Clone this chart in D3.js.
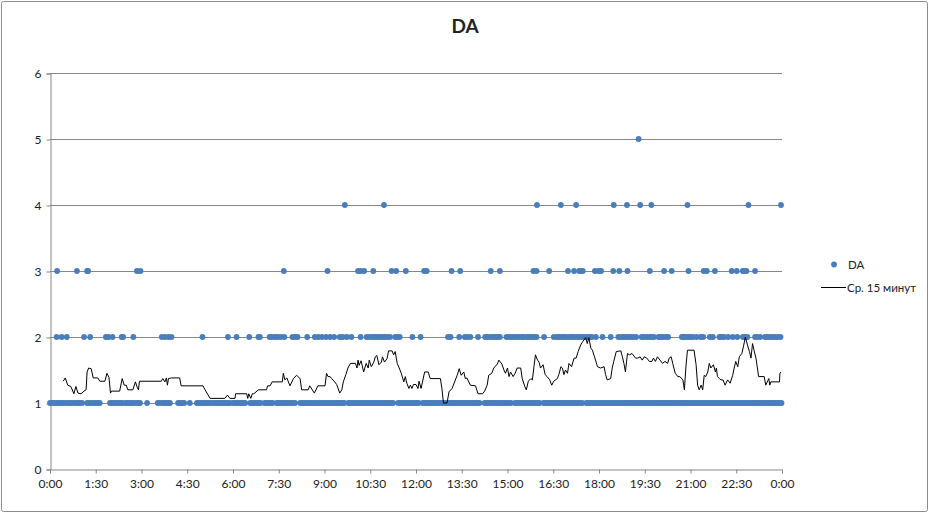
<!DOCTYPE html>
<html>
<head>
<meta charset="utf-8">
<script src="https://cdn.jsdelivr.net/npm/d3@7"></script>
<style>
  body { margin: 0; background: #fff; }
  svg text { font-family: Lato, "Open Sans", sans-serif; fill: #222; }
</style>
</head>
<body>
<svg id="chart" width="930" height="514"></svg>
<script>
// minutes since 0:00
const xTicks = [0, 90, 180, 270, 360, 450, 540, 630, 720, 810, 900, 990, 1080, 1170, 1260, 1350, 1440];
const xLabels = ['0:00', '1:30', '3:00', '4:30', '6:00', '7:30', '9:00', '10:30', '12:00',
  '13:30', '15:00', '16:30', '18:00', '19:30', '21:00', '22:30', '0:00'];
const yTicks = [0, 1, 2, 3, 4, 5, 6];

// DA readings, grouped by value (time in minutes)
const daOnes = [0, 4, 8, 12, 17, 21, 25, 29, 34, 38, 42, 47, 51, 55, 59, 63,
  73, 77, 81, 86, 90, 94, 98,
  118, 122, 126, 131, 135, 139, 143, 149, 153, 157, 161, 165, 170, 174, 177,
  191, 212, 216, 221, 225, 229, 233, 236, 252, 256, 260, 264, 275, 289, 293, 297, 301,
  305, 309, 313, 317, 322, 326, 330, 334, 338, 342, 346, 350, 354,
  360, 364, 368, 372, 376, 380, 384, 394, 398, 402, 406, 410, 414, 422, 426, 430, 434, 438,
  446, 450, 454, 458, 462, 466, 470, 474, 478, 482, 492, 496, 500, 504, 508, 512, 516, 520, 524, 528, 531,
  535, 539, 543, 547, 551, 555, 559, 563, 567, 571, 575, 579, 587, 591, 595, 599, 603, 607, 611, 615,
  619, 623, 627, 631, 635, 639, 643, 647, 651, 655, 659, 663, 667, 671, 675, 685, 689, 693, 697, 701,
  705, 709, 713, 717, 721, 725, 733, 737, 741, 745, 749, 753, 757, 761, 765, 769, 773, 777, 781, 785,
  789, 793, 797, 801, 805, 809, 813, 817, 821, 825, 829, 833, 837, 841, 845, 855, 859, 863, 867, 871,
  875, 879, 883, 887, 891, 895, 899, 903, 907, 915, 919, 923, 927, 931, 935, 939, 943, 947, 951, 955,
  959, 963, 971, 975, 979, 983, 987, 991, 995, 999, 1003, 1007, 1011, 1015, 1019, 1023, 1027, 1031,
  1035, 1039, 1043, 1047, 1055, 1059, 1063, 1067, 1071, 1075, 1079, 1083, 1087, 1091, 1095, 1099,
  1103, 1107, 1111, 1115, 1119, 1123, 1127, 1131, 1135, 1139, 1143, 1147, 1151, 1155, 1159, 1163,
  1167, 1171, 1175, 1179, 1183, 1187, 1191, 1195, 1199, 1203, 1207, 1211, 1215, 1219, 1223, 1227,
  1231, 1235, 1239, 1243, 1247, 1251, 1255, 1259, 1263, 1267, 1271, 1275, 1279, 1283, 1287, 1291,
  1295, 1299, 1303, 1307, 1311, 1315, 1319, 1323, 1327, 1331, 1335, 1339, 1343, 1347, 1351, 1355,
  1359, 1363, 1367, 1371, 1375, 1379, 1383, 1387, 1391, 1395, 1399, 1403, 1407, 1411, 1415, 1419,
  1423, 1427, 1431, 1435, 1439];
const daTwos = [13, 23, 33, 67, 79, 110, 115, 123, 141, 144, 164, 220, 226, 233, 239, 300, 350, 367,
  392, 410, 413, 432, 437, 443, 448, 454, 461, 477, 482, 487, 506, 521, 528, 535, 543, 551, 559, 570,
  576, 584, 593, 611, 623, 629, 635, 639, 644, 649, 654, 659, 664, 669, 679, 683, 688, 713, 729, 783,
  788, 805, 816, 821, 827, 842, 856, 860, 865, 871, 875, 880, 885, 898, 903, 908, 913, 918, 923, 928,
  932, 938, 943, 948, 952, 957, 972, 991, 997, 1002, 1007, 1011, 1016, 1022, 1026, 1031, 1036, 1041,
  1046, 1050, 1056, 1061, 1066, 1074, 1087, 1103, 1118, 1123, 1128, 1133, 1138, 1142, 1147, 1153, 1164,
  1168, 1174, 1179, 1184, 1188, 1197, 1201, 1206, 1212, 1216, 1243, 1247, 1251, 1256, 1260, 1265, 1272,
  1280, 1285, 1298, 1304, 1317, 1321, 1326, 1334, 1343, 1352, 1363, 1367, 1372, 1387, 1391, 1397, 1406,
  1411, 1416, 1422, 1426, 1431, 1437];
const daThrees = [14, 53, 73, 75, 171, 178, 460, 546, 606, 611, 618, 636, 672, 681, 700, 736, 741, 790,
  807, 867, 885, 951, 957, 982, 1019, 1031, 1041, 1044, 1048, 1072, 1079, 1084, 1108, 1120, 1136, 1180,
  1208, 1223, 1256, 1286, 1292, 1308, 1341, 1351, 1363, 1365, 1370, 1387];
const daFours = [580, 657, 958, 1005, 1035, 1109, 1135, 1161, 1183, 1254, 1374, 1438];
const daFives = [1158];

// 15-minute moving average
const maTimes = [26, 30, 35, 41, 47, 51, 55, 61, 67, 71, 73, 76, 81, 85, 94, 98, 108, 112, 116, 119,
  121, 137, 142, 146, 150, 153, 163, 168, 172, 174, 176, 219, 222, 226, 229, 231, 233, 239, 255, 258,
  301, 305, 315, 344, 349, 354, 364, 365, 387, 389, 391, 395, 398, 401, 410, 426, 428, 433, 437, 457,
  459, 462, 466, 472, 479, 485, 492, 495, 508, 511, 520, 527, 541, 544, 547, 551, 554, 559, 564, 570,
  574, 577, 582, 586, 591, 601, 604, 606, 608, 612, 617, 622, 626, 628, 632, 637, 640, 643, 647, 652,
  654, 658, 663, 666, 673, 676, 679, 683, 687, 691, 696, 699, 702, 706, 709, 712, 715, 720, 724, 726,
  730, 737, 744, 748, 768, 771, 774, 781, 785, 791, 801, 805, 809, 814, 817, 820, 827, 837, 842, 851,
  855, 860, 863, 869, 873, 880, 883, 889, 893, 896, 900, 903, 906, 911, 915, 919, 926, 929, 934, 937,
  941, 946, 949, 952, 955, 959, 962, 965, 970, 974, 978, 983, 987, 991, 998, 1001, 1005, 1008, 1011, 1014,
  1018, 1021, 1026, 1031, 1035, 1039, 1044, 1048, 1054, 1057, 1060, 1064, 1067, 1072, 1077, 1083, 1090,
  1093, 1096, 1103, 1106, 1109, 1114, 1123, 1126, 1129, 1132, 1136, 1140, 1145, 1152, 1156, 1161, 1165,
  1169, 1174, 1179, 1184, 1187, 1191, 1195, 1200, 1205, 1210, 1215, 1218, 1222, 1225, 1230, 1235, 1239,
  1245, 1248, 1251, 1254, 1267, 1271, 1274, 1277, 1281, 1284, 1287, 1290, 1294, 1297, 1300, 1305, 1309,
  1311, 1313, 1317, 1320, 1324, 1328, 1333, 1338, 1343, 1346, 1349, 1353, 1356, 1361, 1364, 1368, 1372,
  1376, 1379, 1382, 1385, 1389, 1394, 1405, 1408, 1414, 1416, 1418, 1435, 1436, 1438];
const maValues = [1.33, 1.38, 1.27, 1.25, 1.14, 1.25, 1.15, 1.14, 1.18, 1.20, 1.47, 1.53, 1.52, 1.38,
  1.38, 1.33, 1.33, 1.45, 1.39, 1.15, 1.18, 1.18, 1.37, 1.27, 1.27, 1.20, 1.20, 1.32, 1.23, 1.20, 1.33,
  1.33, 1.37, 1.32, 1.38, 1.27, 1.37, 1.38, 1.38, 1.26, 1.26, 1.20, 1.07, 1.07, 1.12, 1.07, 1.07, 1.14,
  1.14, 1.07, 1.14, 1.07, 1.14, 1.14, 1.20, 1.20, 1.26, 1.26, 1.32, 1.32, 1.45, 1.35, 1.38, 1.26, 1.37,
  1.42, 1.37, 1.20, 1.20, 1.26, 1.15, 1.26, 1.26, 1.45, 1.40, 1.40, 1.37, 1.33, 1.28, 1.15, 1.20, 1.32,
  1.43, 1.53, 1.60, 1.60, 1.53, 1.65, 1.57, 1.64, 1.47, 1.60, 1.53, 1.65, 1.55, 1.62, 1.70, 1.72, 1.58,
  1.62, 1.70, 1.62, 1.67, 1.79, 1.79, 1.73, 1.78, 1.60, 1.53, 1.45, 1.32, 1.40, 1.30, 1.22, 1.27, 1.22,
  1.28, 1.28, 1.22, 1.33, 1.22, 1.47, 1.47, 1.37, 1.37, 1.22, 1.00, 1.00, 1.17, 1.22, 1.42, 1.52, 1.42,
  1.47, 1.37, 1.38, 1.27, 1.26, 1.14, 1.14, 1.18, 1.27, 1.42, 1.45, 1.53, 1.59, 1.65, 1.59, 1.50, 1.45,
  1.53, 1.40, 1.47, 1.40, 1.45, 1.53, 1.53, 1.37, 1.25, 1.20, 1.33, 1.37, 1.35, 1.55, 1.73, 1.65, 1.62,
  1.53, 1.58, 1.43, 1.40, 1.35, 1.27, 1.33, 1.37, 1.43, 1.55, 1.53, 1.43, 1.50, 1.45, 1.60, 1.55, 1.68,
  1.68, 1.78, 1.88, 1.93, 1.99, 1.90, 1.99, 1.83, 1.80, 1.68, 1.55, 1.53, 1.55, 1.43, 1.35, 1.37, 1.53,
  1.63, 1.78, 1.79, 1.70, 1.60, 1.47, 1.75, 1.73, 1.75, 1.68, 1.68, 1.70, 1.65, 1.70, 1.68, 1.63, 1.63,
  1.68, 1.63, 1.70, 1.65, 1.60, 1.63, 1.60, 1.68, 1.70, 1.60, 1.45, 1.40, 1.40, 1.35, 1.20, 1.55, 1.80,
  1.80, 1.58, 1.27, 1.20, 1.27, 1.20, 1.42, 1.40, 1.47, 1.60, 1.53, 1.58, 1.47, 1.53, 1.40, 1.37, 1.35,
  1.35, 1.27, 1.35, 1.30, 1.42, 1.53, 1.63, 1.55, 1.70, 1.75, 1.85, 2.00, 1.88, 1.78, 1.68, 1.90, 1.80,
  1.67, 1.40, 1.40, 1.27, 1.37, 1.27, 1.32, 1.32, 1.45, 1.47];

const svg = d3.select('#chart');
const plot = {left: 50, right: 782, top: 73, bottom: 469};
const dotColor = '#4a7ebb';

let x = d3.scaleLinear().domain([0, 1440]).range([plot.left, plot.right]);
let y = d3.scaleLinear().domain([0, 6]).range([plot.bottom, plot.top]);

// outer chart frame
svg.append('rect')
  .attr('x', 1.5).attr('y', 1.5).attr('width', 926).attr('height', 510)
  .attr('fill', '#fff').attr('stroke', '#8c8c8c').attr('rx', 2);

svg.append('text')
  .attr('x', 465).attr('y', 33)
  .attr('text-anchor', 'middle')
  .style('font-size', '19px').style('font-weight', 'bold')
  .text('DA');

// horizontal gridlines
svg.append('g')
  .selectAll('line')
  .data(yTicks.slice(1))
  .join('line')
  .attr('x1', plot.left).attr('x2', plot.right)
  .attr('y1', d => Math.round(y(d)) + 0.5).attr('y2', d => Math.round(y(d)) + 0.5)
  .attr('stroke', '#878787');

let yAxis = svg.append('g')
  .attr('transform', `translate(${plot.left + 0.5},0.5)`)
  .call(d3.axisLeft(y).tickValues(yTicks).tickSize(4).tickPadding(5).tickFormat(d3.format('d')));

let xAxis = svg.append('g')
  .attr('transform', `translate(0,${plot.bottom + 0.5})`)
  .call(d3.axisBottom(x).tickValues(xTicks).tickSize(4).tickPadding(6)
    .tickFormat((d, i) => xLabels[i]));

[xAxis, yAxis].forEach(g => {
  g.select('.domain').attr('stroke', '#878787');
  g.selectAll('.tick line').attr('stroke', '#878787');
  g.selectAll('text').style('font-size', '12px').style('font-family', 'Lato, sans-serif').attr('fill', '#222');
});

// scatter points
const points = [
  ...daOnes.map(t => ({t, v: 1})),
  ...daTwos.map(t => ({t, v: 2})),
  ...daThrees.map(t => ({t, v: 3})),
  ...daFours.map(t => ({t, v: 4})),
  ...daFives.map(t => ({t, v: 5}))
];
svg.append('g')
  .selectAll('circle')
  .data(points)
  .join('circle')
  .attr('cx', d => x(d.t))
  .attr('cy', d => y(d.v))
  .attr('r', 2.9)
  .attr('fill', dotColor);

// moving average line
let maLine = d3.line().x(d => x(d[0])).y(d => y(d[1]));
svg.append('path')
  .datum(maTimes.map((t, i) => [t, maValues[i]]))
  .attr('d', maLine)
  .attr('fill', 'none')
  .attr('stroke', '#000')
  .attr('stroke-width', 1);

// legend
let legend = svg.append('g');
legend.append('circle').attr('cx', 834).attr('cy', 264.5).attr('r', 2.9).attr('fill', dotColor);
legend.append('text').attr('x', 848).attr('y', 268.5).style('font-size', '11.5px').text('DA');
legend.append('line').attr('x1', 821).attr('x2', 846).attr('y1', 287.5).attr('y2', 287.5)
  .attr('stroke', '#000');
legend.append('text').attr('x', 847).attr('y', 291.5).style('font-size', '11.5px').text('Ср. 15 минут');
</script>
</body>
</html>
